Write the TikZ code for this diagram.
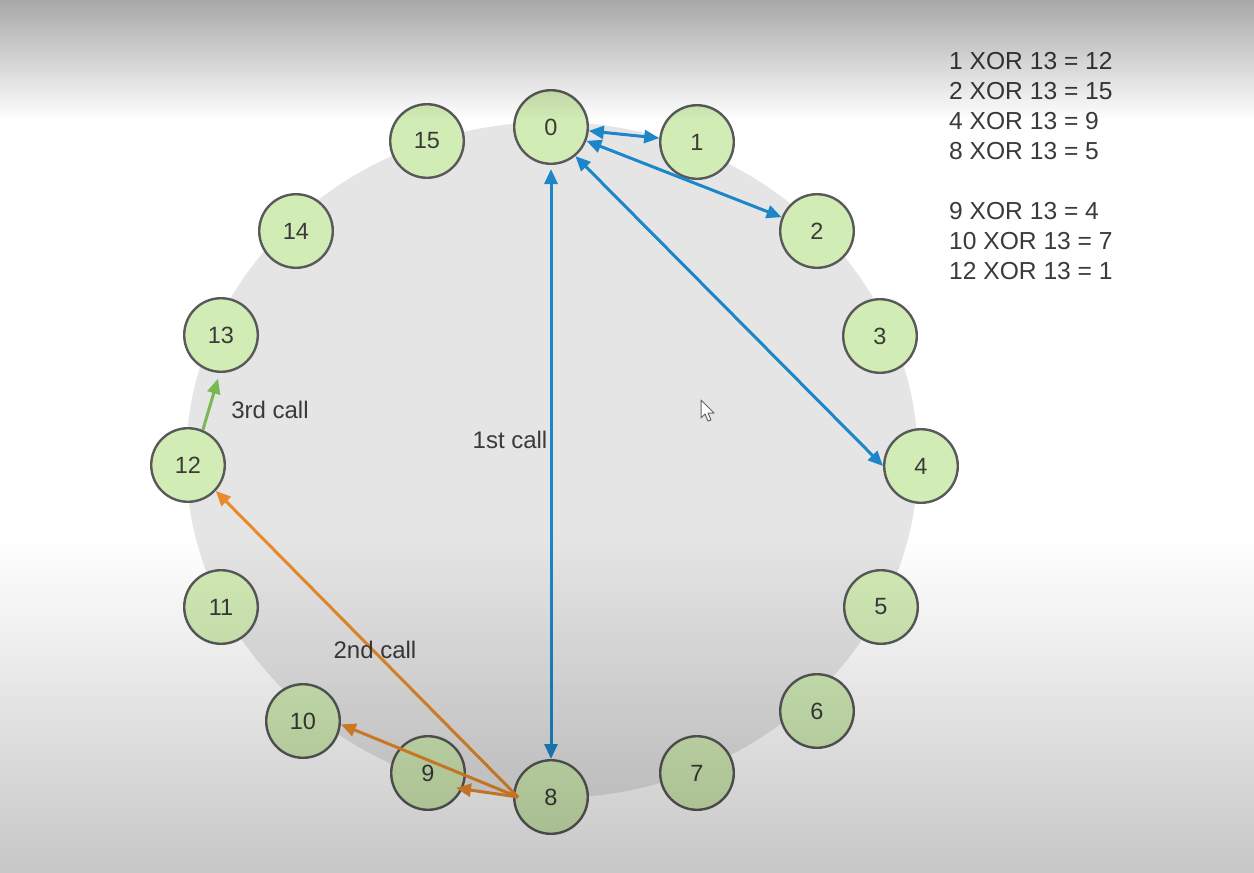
\documentclass[tikz,border=0pt]{standalone}
\usepackage{fontspec}
\setmainfont{Liberation Sans}
\usetikzlibrary{arrows.meta,calc}
\definecolor{nodefill}{HTML}{D2ECB6}
\definecolor{nodeline}{HTML}{595959}
\definecolor{cblue}{HTML}{1C86C8}
\definecolor{corange}{HTML}{E98A2C}
\definecolor{cgreen}{HTML}{79B853}
\definecolor{txt}{HTML}{3A3A3A}
\definecolor{disc}{HTML}{E5E5E5}
\begin{document}
\begin{tikzpicture}[x=1pt,y=-1pt,
  nd/.style={circle,draw=nodeline,line width=2.4pt,fill=nodefill,minimum size=73.6pt,inner sep=0pt,text=txt,font=\fontsize{23.5}{27}\selectfont},
  lbl/.style={text=txt,font=\fontsize{24}{28}\selectfont,inner sep=0pt},
  xorline/.style={text=txt,font=\fontsize{24.6}{28}\selectfont,inner sep=0pt,anchor=base west},
  link/.style={line width=3pt},
  >={Triangle[length=15pt,width=13pt]}
]
\useasboundingbox (0,0) rectangle (1254,873);
\fill[white] (0,0) rectangle (1254,873);
% big disc
\fill[disc] (552,460) ellipse [x radius=366, y radius=338];

% nodes
\node[nd] (n0) at (551,127) {0};
\node[nd] (n1) at (697,142) {1};
\node[nd] (n2) at (817,231) {2};
\node[nd] (n3) at (880,336) {3};
\node[nd] (n4) at (921,466) {4};
\node[nd] (n5) at (881,607) {5};
\node[nd] (n6) at (817,711) {6};
\node[nd] (n7) at (697,773) {7};
\node[nd] (n8) at (551,797) {8};
\node[nd] (n9) at (428,773) {9};
\node[nd] (n10) at (303,721) {10};
\node[nd] (n11) at (221,607) {11};
\node[nd] (n12) at (188,465) {12};
\node[nd] (n13) at (221,335) {13};
\node[nd] (n14) at (296,231) {14};
\node[nd] (n15) at (427,141) {15};

% blue (1st call)
\draw[link,cblue,<->] (n0) -- (n1);
\draw[link,cblue,<->] (n0) -- (n2);
\draw[link,cblue,<->] (n0.-50) -- (n4.west);
\draw[link,cblue,<->,shorten <=4pt] (n0.south) -- (n8.north);

% orange (2nd call)
\coordinate (o8) at ($(n8)+(-33,0)$);
\draw[link,corange,->] (o8) -- (n12.-43);
\draw[link,corange,->] (o8) -- (n10.-5);
\draw[link,corange,->] (o8) -- ($(n9)+(28,15)$);

% green (3rd call)
\draw[link,cgreen,->,shorten >=6pt] (n12.67) -- (n13.-92);

% labels
\node[lbl] (l1) at (510,440) {1st call};
\node[lbl] (l2) at (375,650) {2nd call};
\node[lbl] (l3) at (270,410) {3rd call};

% xor list
\node[xorline] (x1) at (949,69) {1 XOR 13 = 12};
\node[xorline] (x2) at (949,99) {2 XOR 13 = 15};
\node[xorline] (x3) at (949,129) {4 XOR 13 = 9};
\node[xorline] (x4) at (949,159) {8 XOR 13 = 5};
\node[xorline] (x5) at (949,219) {9 XOR 13 = 4};
\node[xorline] (x6) at (949,249) {10 XOR 13 = 7};
\node[xorline] (x7) at (949,279) {12 XOR 13 = 1};

% mouse cursor
\draw[fill=white,draw=gray!80!black,line width=1pt,line join=round]
  (701,400) -- (701,418) -- (705,414) -- (708,421) -- (711,420) -- (708,413) -- (714,413) -- cycle;

% vignette overlays
\foreach \i in {0,...,59}{
  \pgfmathsetmacro\op{0.34*(1-\i/60)}
  \fill[black,opacity=\op] (0,{2*\i}) rectangle (1254,{2*\i+2});
}
\foreach \i in {0,...,110}{
  \pgfmathsetmacro\op{0.22*(\i+0.5)/111}
  \fill[black,opacity=\op] (0,{540+3*\i}) rectangle (1254,{543+3*\i});
}
\end{tikzpicture}
\end{document}
